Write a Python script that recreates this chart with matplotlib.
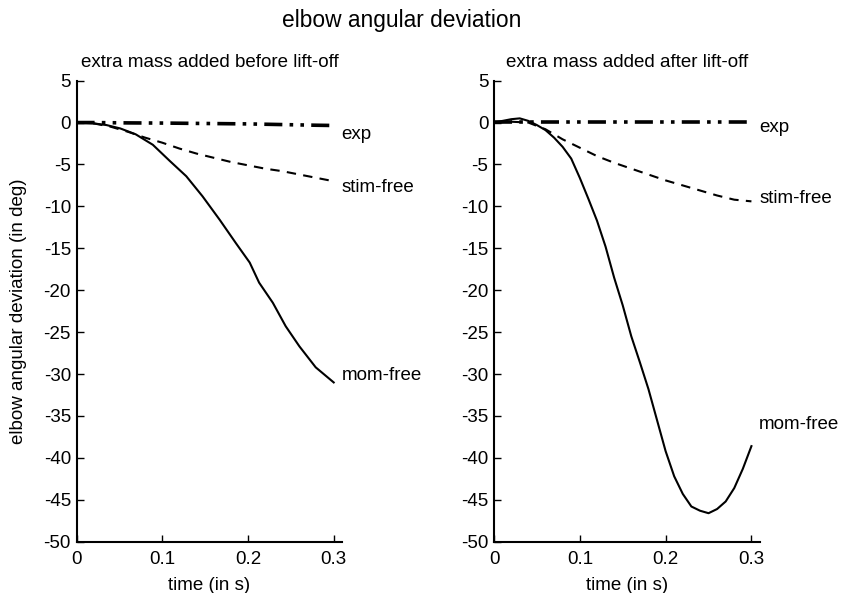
import matplotlib
matplotlib.use("Agg")
import matplotlib.pyplot as plt

plt.rcParams['font.family'] = ['Liberation Sans', 'DejaVu Sans']
plt.rcParams['font.size'] = 13.5
plt.rcParams['axes.unicode_minus'] = False

# --- data ---
t_coarse = [0.0, 0.02, 0.04, 0.06, 0.08, 0.10, 0.12, 0.14, 0.16, 0.18,
            0.20, 0.22, 0.24, 0.26, 0.28, 0.30]

# before lift-off
exp_before = [0.0, 0.0, -0.02, -0.04, -0.05, -0.06, -0.08, -0.10, -0.12, -0.14,
              -0.16, -0.2, -0.24, -0.28, -0.32, -0.35]
stim_before = [0.0, -0.1, -0.5, -1.1, -1.8, -2.4, -3.1, -3.7, -4.2, -4.7,
               -5.1, -5.5, -5.8, -6.2, -6.6, -7.0]
t_mom_before = [0.0, 0.02, 0.035, 0.051, 0.069, 0.089, 0.109, 0.128, 0.147,
                0.167, 0.186, 0.202, 0.213, 0.229, 0.244, 0.26, 0.279, 0.3]
mom_before = [0.0, -0.1, -0.3, -0.7, -1.4, -2.65, -4.6, -6.4, -8.8,
              -11.6, -14.4, -16.7, -19.1, -21.5, -24.3, -26.7, -29.2, -31.0]

# after lift-off
exp_after = [0.1] * len(t_coarse)
stim_after = [0.0, 0.1, 0.0, -0.8, -2.0, -3.0, -4.0, -4.8, -5.5, -6.2,
              -6.9, -7.5, -8.1, -8.7, -9.2, -9.4]
t_mom_after = [0.0, 0.01, 0.02, 0.03, 0.04, 0.05, 0.06, 0.07, 0.08, 0.09, 0.10,
               0.11, 0.12, 0.13, 0.14, 0.15, 0.16, 0.17, 0.18, 0.19, 0.20,
               0.21, 0.22, 0.23, 0.24, 0.25, 0.26, 0.27, 0.28, 0.29, 0.30]
mom_after = [0.0, 0.2, 0.4, 0.5, 0.2, -0.3, -0.9, -1.8, -2.9, -4.3, -6.6,
             -9.1, -11.7, -14.8, -18.5, -21.8, -25.5, -28.6, -31.8, -35.5, -39.2,
             -42.2, -44.3, -45.8, -46.3, -46.6, -46.1, -45.2, -43.6, -41.3, -38.6]

labels = ["exp", "stim-free", "mom-free"]
label_y_before = [-1.4, -7.7, -30.2]
label_y_after = [-0.6, -9.0, -36.0]

fig = plt.figure(figsize=(8.41, 5.93), dpi=100)
ax1 = fig.add_axes([0.091, 0.0865, 0.316, 0.7775])
ax2 = fig.add_axes([0.5874, 0.0865, 0.3163, 0.7775])

exp_style = dict(color='black', lw=2.6, dashes=(5, 2, 1, 2, 1, 2))
stim_style = dict(color='black', lw=1.5, ls=(0, (4.5, 3.5)))
mom_style = dict(color='black', lw=1.5)

panels = [
    (ax1, "extra mass added before lift-off", exp_before, stim_before,
     t_mom_before, mom_before, label_y_before),
    (ax2, "extra mass added after lift-off", exp_after, stim_after,
     t_mom_after, mom_after, label_y_after),
]

for ax, title, e, s, tm, m, ly in panels:
    ax.plot(t_coarse, e, **exp_style)
    ax.plot(t_coarse, s, **stim_style)
    ax.plot(tm, m, **mom_style)
    for lab, y in zip(labels, ly):
        ax.text(0.309, y, lab, va='center', ha='left', clip_on=False)
    ax.set_xlim(0, 0.31)
    ax.set_ylim(-50, 5)
    ax.set_xticks([0, 0.1, 0.2, 0.3])
    ax.set_xticklabels(["0", "0.1", "0.2", "0.3"])
    ax.set_yticks(range(-50, 6, 5))
    ax.spines['top'].set_visible(False)
    ax.spines['right'].set_visible(False)
    for sp in ('left', 'bottom'):
        ax.spines[sp].set_linewidth(1.5)
    ax.tick_params(direction='in', length=5, width=1)
    ax.tick_params(axis='x', pad=7)
    ax.tick_params(axis='y', pad=4)
    ax.set_xlabel("time (in s)", labelpad=6)
    ax.set_title(title, fontsize=13.5, pad=10)

ax1.set_ylabel("elbow angular deviation (in deg)", labelpad=12)
fig.text(0.478, 0.966, "elbow angular deviation", ha='center', va='center', fontsize=16.4)

fig.savefig("out.png", dpi=100)
